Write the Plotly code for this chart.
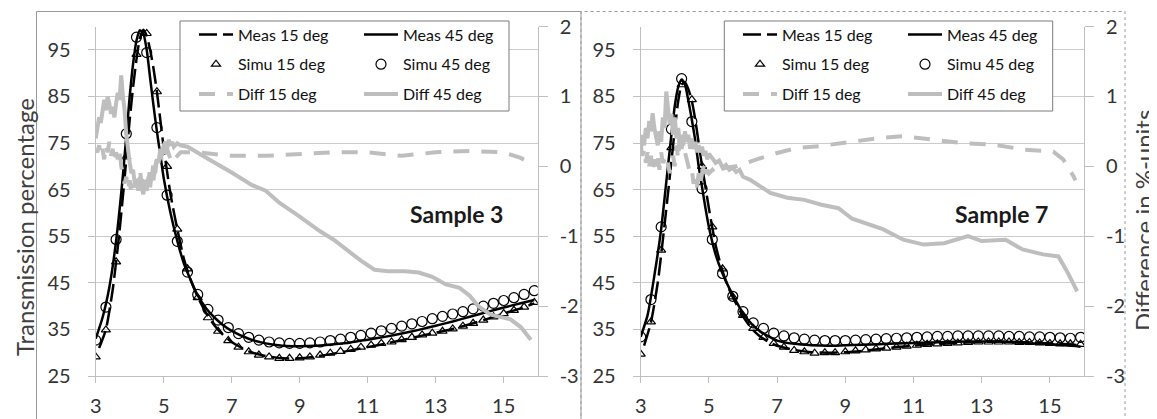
import plotly.graph_objects as go

# ---------------- data ----------------
sim_x = [3.0, 3.3, 3.6, 3.9, 4.2, 4.5, 4.8, 5.1, 5.4, 5.7, 6.0, 6.3, 6.6, 6.9, 7.2, 7.5,
         7.8, 8.1, 8.4, 8.7, 9.0, 9.3, 9.6, 9.9, 10.2, 10.5, 10.8, 11.1, 11.4, 11.7, 12.0,
         12.3, 12.6, 12.9, 13.2, 13.5, 13.8, 14.1, 14.4, 14.7, 15.0, 15.3, 15.6, 15.9]

s3_simu15 = [29.1, 34.9, 49.5, 72.0, 94.0, 98.5, 86.0, 70.0, 56.5, 48.0, 41.8, 37.5, 34.6, 32.6,
             31.2, 30.2, 29.5, 29.1, 28.8, 28.8, 28.9, 29.1, 29.5, 29.9, 30.3, 30.7, 31.2, 31.6,
             32.0, 32.3, 32.8, 33.3, 33.8, 34.2, 34.6, 35.1, 35.7, 36.3, 37.0, 37.7, 38.4, 39.1,
             39.8, 40.8]
s3_simu45 = [32.7, 39.8, 54.3, 77.0, 97.7, 94.4, 78.3, 63.8, 53.9, 47.3, 42.5, 39.3, 37.0, 35.4,
             34.1, 33.3, 32.7, 32.3, 32.1, 32.0, 32.0, 32.1, 32.3, 32.6, 32.9, 33.3, 33.7, 34.2,
             34.7, 35.2, 35.7, 36.2, 36.7, 37.3, 37.8, 38.3, 38.8, 39.4, 40.0, 40.6, 41.2, 41.8,
             42.5, 43.3]
s7_simu15 = [29.7, 36.6, 52.0, 74.0, 87.5, 84.3, 70.0, 57.0, 48.0, 42.0, 38.0, 35.2, 33.3, 32.0,
             31.2, 30.5, 30.2, 29.9, 30.0, 30.0, 30.2, 30.4, 30.6, 30.8, 31.0, 31.2, 31.4, 31.6,
             31.8, 31.9, 32.0, 32.1, 32.2, 32.3, 32.3, 32.3, 32.3, 32.2, 32.2, 32.1, 32.0, 31.9,
             31.9, 31.8]
s7_simu45 = [33.4, 41.4, 57.0, 78.0, 88.8, 79.6, 65.2, 54.3, 47.0, 42.1, 38.8, 36.4, 35.2, 34.2,
             33.6, 33.2, 32.9, 32.7, 32.6, 32.6, 32.6, 32.7, 32.8, 32.9, 33.0, 33.1, 33.2, 33.3,
             33.4, 33.5, 33.5, 33.6, 33.6, 33.6, 33.6, 33.6, 33.5, 33.5, 33.4, 33.4, 33.3, 33.2,
             33.1, 33.3]

meas15_x = [3.1, 3.3, 3.5, 3.7, 3.9, 4.0, 4.1, 4.2, 4.3, 4.4, 4.5, 4.6, 4.7, 4.8, 4.9, 5.0,
            5.2, 5.4, 5.6, 5.8, 6.0, 6.25, 6.5, 6.75, 7.0, 7.5, 8.0, 8.5, 9.0, 9.5, 10.0, 10.5,
            11.0, 11.5, 12.0, 12.5, 13.0, 13.5, 14.0, 14.5, 15.0, 15.5, 15.9]
meas45_x = [3.0, 3.2, 3.4, 3.6, 3.8, 4.0, 4.1, 4.2, 4.3, 4.4, 4.5, 4.6, 4.7, 4.8, 4.9, 5.0,
            5.2, 5.4, 5.6, 5.8, 6.0, 6.25, 6.5, 6.75, 7.0, 7.5, 8.0, 8.5, 9.0, 9.5, 10.0, 10.5,
            11.0, 11.5, 12.0, 12.5, 13.0, 13.5, 14.0, 14.5, 15.0, 15.5, 15.9]

s3_meas15 = [31.0, 35.0, 43.5, 56.0, 71.5, 80.0, 87.0, 93.0, 97.5, 99.3, 98.0, 95.0, 91.0, 86.0,
             80.0, 74.0, 64.0, 56.5, 50.0, 45.5, 42.0, 38.5, 35.8, 33.8, 32.3, 30.3, 29.3, 28.8,
             28.8, 29.2, 29.8, 30.5, 31.2, 31.9, 32.7, 33.5, 34.3, 35.1, 36.1, 37.2, 38.4, 39.5,
             40.6]
s3_meas45 = [33.0, 37.5, 44.0, 54.0, 68.0, 85.0, 92.0, 97.0, 99.2, 98.5, 95.0, 89.0, 83.0, 77.5,
             72.5, 67.5, 60.0, 54.0, 49.0, 45.5, 42.3, 39.5, 37.5, 35.9, 34.7, 33.0, 32.0, 31.5,
             31.4, 31.5, 31.8, 32.2, 32.8, 33.4, 34.1, 34.9, 35.8, 36.7, 37.7, 38.7, 39.7, 40.6,
             41.3]
s7_meas15 = [31.5, 36.5, 45.0, 57.5, 71.0, 78.0, 84.0, 87.5, 88.0, 86.5, 84.0, 80.0, 75.0, 70.0,
             65.5, 61.0, 53.0, 47.5, 43.5, 40.5, 37.8, 35.2, 33.5, 32.3, 31.5, 30.6, 30.1, 30.0,
             30.1, 30.4, 30.8, 31.2, 31.5, 31.8, 32.0, 32.2, 32.3, 32.4, 32.3, 32.2, 32.0, 31.8,
             31.6]
s7_meas45 = [33.4, 38.0, 46.5, 56.5, 70.0, 83.0, 87.0, 88.6, 87.5, 84.0, 80.0, 75.5, 70.0, 65.5,
             61.0, 57.0, 51.0, 47.0, 43.8, 41.0, 38.5, 36.2, 34.6, 33.5, 32.6, 31.9, 31.6, 31.5,
             31.6, 31.7, 31.8, 32.0, 32.1, 32.2, 32.3, 32.4, 32.4, 32.4, 32.2, 32.0, 31.8, 31.6,
             31.3]

s3_diff45_x = [3.00, 3.05, 3.10, 3.15, 3.20, 3.25, 3.30, 3.35, 3.40, 3.45, 3.50, 3.55, 3.60, 3.65,
               3.70, 3.75, 3.80, 3.85, 3.90, 3.95, 4.00, 4.05, 4.10, 4.15, 4.20, 4.25, 4.30, 4.35,
               4.40, 4.45, 4.50, 4.55, 4.60, 4.65, 4.70, 4.75, 4.80, 4.85, 4.90, 4.95, 5.00, 5.05,
               5.10, 5.15, 5.20, 5.25, 5.30, 5.40, 5.50, 5.70, 6.00, 6.40, 7.00, 7.60, 8.00, 8.40,
               9.00, 9.60, 10.00, 10.40, 10.80, 11.20, 11.60, 12.10, 12.50, 12.90, 13.30, 13.70,
               14.00, 14.25, 14.60, 15.20, 15.50, 15.80]
s3_diff45 = [0.40, 0.55, 0.70, 0.62, 0.85, 0.95, 0.80, 1.00, 0.90, 0.75, 0.85, 0.70, 0.90, 1.05,
             0.95, 1.30, 1.00, 0.80, 0.45, 0.20, 0.05, -0.10, -0.05, -0.25, -0.20, -0.35, -0.15,
             -0.30, -0.40, -0.25, -0.35, -0.15, -0.30, -0.10, -0.20, 0.00, 0.10, 0.05, 0.25, 0.15,
             0.30, 0.35, 0.25, 0.38, 0.30, 0.35, 0.28, 0.33, 0.30, 0.28, 0.20, 0.08, -0.09, -0.27,
             -0.35, -0.52, -0.72, -0.93, -1.05, -1.20, -1.35, -1.48, -1.50, -1.50, -1.52, -1.58,
             -1.69, -1.74, -1.85, -2.00, -2.12, -2.19, -2.30, -2.48]

s3_diff15_x = [3.00, 3.05, 3.10, 3.15, 3.20, 3.25, 3.30, 3.35, 3.40, 3.45, 3.50, 3.55, 3.60, 3.65,
               3.70, 3.75, 3.80, 3.85, 3.90, 3.95, 4.00, 4.05, 4.10, 4.15, 4.20, 4.25, 4.30, 4.35,
               4.40, 4.45, 4.50, 4.55, 4.60, 4.65, 4.70, 4.75, 4.80, 4.85, 4.90, 4.95, 5.00, 5.10,
               5.20, 5.30, 5.40, 5.50, 6.00, 7.00, 8.00, 9.00, 10.00, 11.00, 12.00, 13.00, 14.00,
               15.00, 15.50, 15.90]
s3_diff15 = [0.25, 0.20, 0.30, 0.15, 0.25, 0.10, 0.30, 0.20, 0.35, 0.15, 0.25, 0.05, 0.20, 0.10,
             0.25, 0.00, -0.10, -0.25, -0.15, -0.35, -0.20, -0.40, -0.25, -0.30, -0.10, -0.30,
             -0.05, -0.25, -0.10, -0.35, -0.15, -0.25, 0.00, -0.15, 0.05, -0.10, 0.10, 0.00, 0.20,
             0.05, 0.15, 0.25, 0.10, 0.20, 0.15, 0.20, 0.20, 0.15, 0.15, 0.17, 0.20, 0.20, 0.15,
             0.20, 0.22, 0.20, 0.12, 0.02]

s7_diff45_x = [3.00, 3.05, 3.10, 3.15, 3.20, 3.25, 3.30, 3.35, 3.40, 3.45, 3.50, 3.55, 3.60, 3.65,
               3.70, 3.75, 3.80, 3.85, 3.90, 3.95, 4.00, 4.05, 4.10, 4.15, 4.20, 4.25, 4.30, 4.35,
               4.40, 4.45, 4.50, 4.55, 4.60, 4.65, 4.70, 4.75, 4.80, 4.85, 4.90, 4.95, 5.00, 5.10,
               5.20, 5.30, 5.40, 5.50, 5.60, 5.70, 5.80, 5.90, 6.00, 6.20, 6.40, 6.60, 6.80, 7.30,
               7.80, 8.30, 8.80, 9.20, 9.60, 10.10, 10.70, 11.30, 11.90, 12.30, 12.60, 13.00, 13.70,
               14.20, 14.80, 15.25, 15.50, 15.80]
s7_diff45 = [0.20, 0.45, 0.30, 0.55, 0.40, 0.65, 0.50, 0.76, 0.55, 0.40, 0.30, 0.50, 0.35, 0.70,
             0.55, 1.07, 0.80, 0.60, 0.75, 0.45, 0.70, 0.40, 0.55, 0.30, 0.45, 0.30, 0.50, 0.35,
             0.45, 0.25, 0.40, 0.25, 0.35, 0.20, 0.30, 0.20, 0.28, 0.15, 0.22, 0.10, 0.18, 0.12,
             0.05, 0.08, -0.02, 0.02, -0.05, -0.02, -0.08, -0.05, -0.15, -0.19, -0.25, -0.32,
             -0.38, -0.45, -0.48, -0.55, -0.60, -0.75, -0.82, -0.90, -1.05, -1.12, -1.10, -1.05,
             -1.00, -1.07, -1.05, -1.19, -1.26, -1.29, -1.50, -1.79]

s7_diff15_x = [3.00, 3.05, 3.10, 3.15, 3.20, 3.25, 3.30, 3.35, 3.40, 3.45, 3.50, 3.55, 3.60, 3.65,
               3.70, 3.75, 3.80, 3.85, 3.90, 3.95, 4.00, 4.05, 4.10, 4.15, 4.20, 4.25, 4.30, 4.35,
               4.40, 4.45, 4.50, 4.55, 4.60, 4.65, 4.70, 4.75, 4.80, 4.85, 4.90, 4.95, 5.00, 5.10,
               5.20, 5.33, 5.50, 5.81, 6.40, 7.00, 7.57, 8.26, 9.33, 9.92, 10.70, 11.58, 12.46,
               13.34, 14.22, 15.10, 15.39, 15.69, 15.75]
s7_diff15 = [0.30, 0.15, 0.25, 0.05, 0.20, 0.00, 0.15, -0.05, 0.10, 0.00, 0.15, -0.05, 0.20, 0.05,
             0.10, -0.02, 0.05, -0.10, 0.05, 0.15, 0.00, 0.30, 0.10, 0.45, 0.25, 0.40, 0.20, 0.10,
             0.05, -0.10, -0.05, -0.25, -0.15, -0.30, -0.10, -0.25, -0.10, 0.00, -0.15, -0.05,
             -0.10, -0.05, -0.12, -0.05, -0.02, 0.00, 0.10, 0.19, 0.26, 0.29, 0.36, 0.40, 0.43,
             0.38, 0.33, 0.31, 0.24, 0.21, 0.10, -0.14, -0.20]

left_ticks = [25, 35, 45, 55, 65, 75, 85, 95]
right_ticks = [-3, -2, -1, 0, 1, 2]
right_ticktext = ["-3", "-2", "-1", "0", "1", "2"]
x_ticks = [3, 5, 7, 9, 11, 13, 15]
panel_labels = ["Sample 3", "Sample 7"]

# ---------------- layout helpers ----------------
# the page body has an 8px margin, so the figure is placed 8px in from the window corner
OFF = 8
W, H = 1157 - OFF, 419 - OFF
def fx(p):
    return (p - OFF) / W
def fy(p):
    return 1 - (p - OFF) / H

FONT = "Lato"
GRID = "#cccccc"
AXIS = "#bfbfbf"
DIFFC = "#bebebe"
TXT = "#333333"

fig = go.Figure()

panels = [
    dict(x="x", y="y", y2="y2", leg=("legend", "legend2"),
         meas15=s3_meas15, meas45=s3_meas45, simu15=s3_simu15, simu45=s3_simu45,
         d15x=s3_diff15_x, d15=s3_diff15, d45x=s3_diff45_x, d45=s3_diff45, tag="s3"),
    dict(x="x2", y="y3", y2="y4", leg=("legend3", "legend4"),
         meas15=s7_meas15, meas45=s7_meas45, simu15=s7_simu15, simu45=s7_simu45,
         d15x=s7_diff15_x, d15=s7_diff15, d45x=s7_diff45_x, d45=s7_diff45, tag="s7"),
]

for p in panels:
    l1, l2 = p["leg"]
    t = p["tag"]
    fig.add_trace(go.Scatter(x=p["d15x"], y=p["d15"], xaxis=p["x"], yaxis=p["y2"], mode="lines",
                             name="Diff 15 deg", legend=l1, legendgroup=t + "c", legendrank=3,
                             line=dict(color=DIFFC, width=4, dash="16px,12px")))
    fig.add_trace(go.Scatter(x=p["d45x"], y=p["d45"], xaxis=p["x"], yaxis=p["y2"], mode="lines",
                             name="Diff 45 deg", legend=l2, legendgroup=t + "f", legendrank=3,
                             line=dict(color=DIFFC, width=4)))
    fig.add_trace(go.Scatter(x=meas15_x, y=p["meas15"], xaxis=p["x"], yaxis=p["y"], mode="lines",
                             name="Meas 15 deg", legend=l1, legendgroup=t + "a", legendrank=1,
                             line=dict(color="black", width=2.5, dash="18px,6px", shape="spline",
                                       smoothing=0.6)))
    fig.add_trace(go.Scatter(x=meas45_x, y=p["meas45"], xaxis=p["x"], yaxis=p["y"], mode="lines",
                             name="Meas 45 deg", legend=l2, legendgroup=t + "d", legendrank=1,
                             line=dict(color="black", width=2.5, shape="spline", smoothing=0.6)))
    fig.add_trace(go.Scatter(x=sim_x, y=p["simu15"], xaxis=p["x"], yaxis=p["y"], mode="markers",
                             name="Simu 15 deg", legend=l1, legendgroup=t + "b", legendrank=2,
                             marker=dict(symbol="triangle-up-open", size=8, color="black",
                                         line=dict(width=1.2, color="black"))))
    fig.add_trace(go.Scatter(x=sim_x, y=p["simu45"], xaxis=p["x"], yaxis=p["y"], mode="markers",
                             name="Simu 45 deg", legend=l2, legendgroup=t + "e", legendrank=2,
                             marker=dict(symbol="circle-open", size=10, color="black",
                                         line=dict(width=1.2, color="black"))))

ydom = [fy(376), fy(26.5)]
xdoms = [[fx(95.7), fx(537.7)], [fx(640.7), fx(1084.0)]]

tickfont = dict(family=FONT, size=20, color=TXT)
xcommon = dict(range=[3, 16], tickvals=x_ticks, ticks="outside", ticklen=6, tickcolor=AXIS,
               tickwidth=1, showline=True, linecolor=AXIS, linewidth=1, showgrid=False,
               zeroline=False, tickfont=tickfont, ticklabelstandoff=6, automargin=False)
yleft = dict(range=[25, 100], tickvals=left_ticks, ticks="outside", ticklen=7, tickcolor=AXIS,
             showline=True, linecolor=AXIS, linewidth=1, showgrid=True, gridcolor=GRID,
             gridwidth=1.2, zeroline=False, tickfont=tickfont, domain=ydom, ticklabelstandoff=13,
             automargin=False)
yright = dict(range=[-3, 2], tickvals=right_ticks, ticktext=right_ticktext, ticks="outside",
              ticklen=9, tickcolor=AXIS, showline=True, linecolor=AXIS, linewidth=1,
              showgrid=False, zeroline=False, tickfont=tickfont, side="right",
              ticklabelstandoff=8, automargin=False)

legend_common = dict(bgcolor="rgba(0,0,0,0)", borderwidth=0, font=dict(family=FONT, size=16, color="#111111"),
                     traceorder="grouped", tracegroupgap=6, xanchor="left", yanchor="top",
                     itemwidth=34, orientation="v")

fig.update_layout(
    width=W, height=H,
    margin=dict(l=0, r=0, t=0, b=0, autoexpand=False),
    paper_bgcolor="white", plot_bgcolor="white",
    xaxis=dict(domain=xdoms[0], anchor="y", **xcommon),
    xaxis2=dict(domain=xdoms[1], anchor="y3", **xcommon),
    yaxis=dict(anchor="x", **yleft),
    yaxis2=dict(anchor="x", overlaying="y", **yright),
    yaxis3=dict(anchor="x2", **yleft),
    yaxis4=dict(anchor="x2", overlaying="y3", **yright),
    legend=dict(x=fx(194), y=fy(17.5), **legend_common),
    legend2=dict(x=fx(359), y=fy(17.5), **legend_common),
    legend3=dict(x=fx(738), y=fy(17.5), **legend_common),
    legend4=dict(x=fx(903), y=fy(17.5), **legend_common),
    showlegend=True,
)

shapes = [
    dict(type="rect", xref="paper", yref="paper", x0=fx(36.5), x1=fx(581), y0=-0.1, y1=fy(11.5),
         line=dict(color="#9a9a9a", width=1), layer="below"),
    dict(type="rect", xref="paper", yref="paper", x0=fx(581), x1=fx(1125), y0=-0.1, y1=fy(11.5),
         line=dict(color="#9a9a9a", width=1, dash="dot"), layer="below"),
    dict(type="rect", xref="paper", yref="paper", x0=fx(180), x1=fx(509), y0=fy(111), y1=fy(21),
         line=dict(color="#7a7a7a", width=1), fillcolor="white", layer="above"),
    dict(type="rect", xref="paper", yref="paper", x0=fx(724.3), x1=fx(1052.7), y0=fy(111), y1=fy(21),
         line=dict(color="#7a7a7a", width=1), fillcolor="white", layer="above"),
]
fig.update_layout(shapes=shapes)

annotations = [
    dict(text=panel_labels[0], x=fx(456.7), y=fy(214), xref="paper", yref="paper", showarrow=False,
         xanchor="center", yanchor="middle",
         font=dict(family=FONT, size=23, color="#1a1a1a", weight="bold")),
    dict(text=panel_labels[1], x=fx(1001.7), y=fy(214), xref="paper", yref="paper", showarrow=False,
         xanchor="center", yanchor="middle",
         font=dict(family=FONT, size=23, color="#1a1a1a", weight="bold")),
    dict(text="Transmission percentage", x=fx(24), y=fy(227), xref="paper", yref="paper",
         xanchor="center", yanchor="middle",
         showarrow=False, textangle=-90, font=dict(family=FONT, size=24, color="#404040")),
    dict(text="Difference in %-units", x=fx(1143), y=fy(221), xref="paper", yref="paper",
         xanchor="center", yanchor="middle",
         showarrow=False, textangle=-90, font=dict(family=FONT, size=24, color="#404040")),
]
fig.update_layout(annotations=annotations)

fig.write_html("out.html")
